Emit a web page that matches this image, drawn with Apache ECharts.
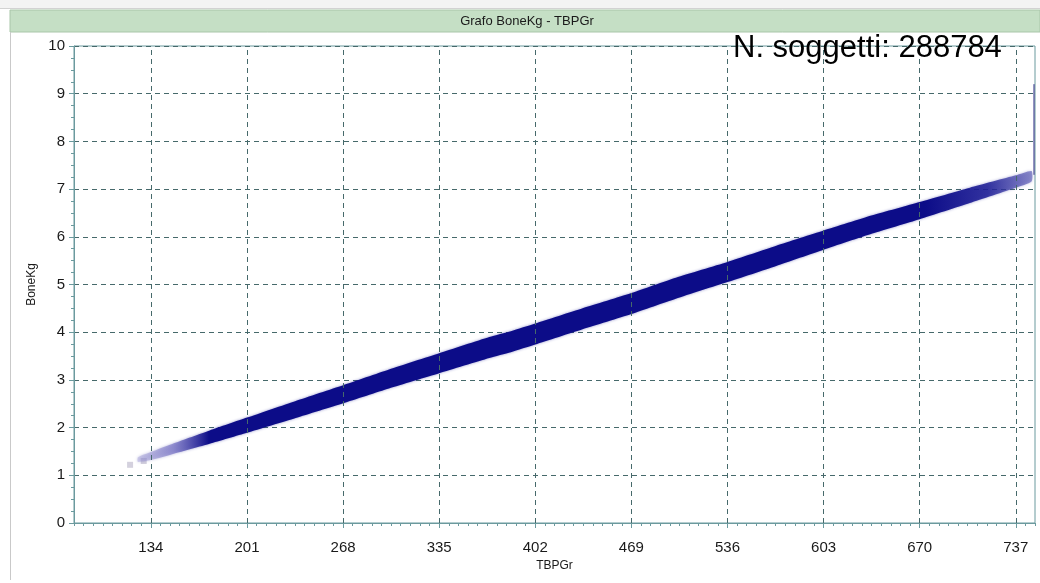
<!DOCTYPE html>
<html>
<head>
<meta charset="utf-8">
<title>Grafo BoneKg - TBPGr</title>
<script src="https://cdn.jsdelivr.net/npm/echarts@6/dist/echarts.min.js"></script>
<style>
  html, body { margin: 0; padding: 0; background: #ffffff; }
  #chart { width: 1040px; height: 583px; }
</style>
</head>
<body>
<div id="chart"></div>
<script>
// TBPGr sample positions along the point cloud and its lower / upper BoneKg edges
const tbpGr    = [125, 137, 150, 175, 201, 235, 268, 300, 335, 370, 385, 402, 435, 469, 500, 536, 570, 603, 637, 670, 705, 737, 748];
const boneLow  = [1.28, 1.34, 1.45, 1.66, 1.89, 2.20, 2.51, 2.82, 3.14, 3.46, 3.58, 3.74, 4.06, 4.38, 4.70, 5.05, 5.39, 5.73, 6.07, 6.37, 6.71, 7.03, 7.16];
const boneHigh = [1.38, 1.52, 1.67, 1.94, 2.21, 2.56, 2.89, 3.22, 3.56, 3.90, 4.02, 4.18, 4.50, 4.82, 5.14, 5.47, 5.81, 6.13, 6.45, 6.73, 7.03, 7.29, 7.38];

// isolated subjects at the low end
const strayTbp  = [119.5, 129.0];
const strayBone = [1.22, 1.30];

// subjects piled on the right edge of the axis
const edgeTbp  = 749.7;
const edgeBone = [7.30, 9.20];

// axis labels
const xTickLabels = [134, 201, 268, 335, 402, 469, 536, 603, 670, 737];
const xMin = 80.4, xMax = 750.4;
const subjectsCount = 288784;

const chart = echarts.init(document.getElementById('chart'));

const axisColor = '#6b9a9e';
const gridColor = '#46696b';
const fontFamily = '"Liberation Sans", Arial, sans-serif';
const labelFont = { color: '#1a1a1a', fontSize: 15, fontFamily: fontFamily };

const bandData = tbpGr.map((x, i) => [x, boneLow[i], boneHigh[i]]);

// the whole cloud is drawn as one polygon: upper edge left to right, lower edge back
function renderBand(params, api) {
  if (params.dataIndex !== 0) return null;
  const upper = bandData.map(d => api.coord([d[0], d[2]]));
  const lower = bandData.map(d => api.coord([d[0], d[1]])).reverse();
  return {
    type: 'polygon',
    shape: { points: upper.concat(lower), smooth: 0.2 },
    style: {
      fill: new echarts.graphic.LinearGradient(0, 0, 1, 0, [
        { offset: 0.00, color: 'rgba(175,170,220,0.45)' },
        { offset: 0.04, color: 'rgba(115,110,195,0.65)' },
        { offset: 0.08, color: '#0c0c88' },
        { offset: 0.88, color: '#0c0c88' },
        { offset: 0.95, color: 'rgba(30,30,150,0.85)' },
        { offset: 1.00, color: 'rgba(80,80,175,0.55)' }
      ]),
      shadowBlur: 3,
      shadowColor: 'rgba(11,11,140,0.45)'
    }
  };
}

const option = {
  animation: false,
  backgroundColor: '#ffffff',
  graphic: [
    { type: 'rect', z: 0, shape: { x: 0, y: 0, width: 1040, height: 9 }, style: { fill: '#f3f3f3' } },
    { type: 'line', z: 1, shape: { x1: 0, y1: 8.5, x2: 1040, y2: 8.5 }, style: { stroke: '#d2d2d2', lineWidth: 1 } },
    { type: 'rect', z: 1, shape: { x: 10, y: 10, width: 1030, height: 22 }, style: { fill: '#c5dfc5', stroke: '#a9c6a9', lineWidth: 1 } },
    { type: 'text', z: 2, x: 527, y: 21, style: { text: 'Grafo BoneKg - TBPGr', fill: '#1a1a1a', font: '13px ' + fontFamily, align: 'center', verticalAlign: 'middle' } },
    { type: 'line', z: 1, shape: { x1: 10.5, y1: 32, x2: 10.5, y2: 580 }, style: { stroke: '#c9c9c9', lineWidth: 1 } },
    { type: 'text', z: 20, x: 733, y: 48, style: { text: 'N. soggetti: ' + subjectsCount, fill: '#000000', font: '31px ' + fontFamily, align: 'left', verticalAlign: 'middle' } }
  ],
  grid: {
    left: 74, right: 5, top: 46, bottom: 60,
    show: true, backgroundColor: '#ffffff', borderColor: axisColor, borderWidth: 1
  },
  xAxis: [
    {
      type: 'value', min: xMin, max: xMax,
      name: 'TBPGr', nameLocation: 'middle', nameGap: 37,
      nameTextStyle: { color: '#1a1a1a', fontSize: 12, fontFamily: fontFamily },
      axisLine: { show: true, lineStyle: { color: axisColor, width: 1 } },
      axisTick: { show: true, length: 5, customValues: xTickLabels, lineStyle: { color: axisColor } },
      axisLabel: Object.assign({ margin: 17, customValues: xTickLabels }, labelFont),
      splitLine: { show: false }
    },
    {
      // minor ticks along the bottom axis
      type: 'value', min: xMin, max: xMax, interval: 6.7, position: 'bottom',
      axisLine: { show: false },
      axisTick: { show: true, length: 3, lineStyle: { color: axisColor } },
      axisLabel: { show: false },
      splitLine: { show: false }
    }
  ],
  yAxis: {
    type: 'value', min: 0, max: 10, interval: 1,
    name: 'BoneKg', nameLocation: 'middle', nameGap: 33,
    nameTextStyle: { color: '#1a1a1a', fontSize: 12, fontFamily: fontFamily },
    axisLine: { show: true, lineStyle: { color: axisColor, width: 1 } },
    axisTick: { show: true, length: 5, lineStyle: { color: axisColor } },
    minorTick: { show: true, splitNumber: 4, length: 3, lineStyle: { color: axisColor } },
    axisLabel: Object.assign({ margin: 9 }, labelFont),
    splitLine: { show: true, lineStyle: { color: gridColor, type: [5, 4], width: 1 } }
  },
  series: [
    {
      name: 'stray',
      type: 'scatter', z: 2,
      symbol: 'rect', symbolSize: 6,
      data: strayTbp.map((x, i) => [x, strayBone[i]]),
      itemStyle: { color: '#c9c6d6' },
      markLine: {
        silent: true, symbol: 'none', label: { show: false },
        lineStyle: { color: gridColor, type: [5, 4], width: 1 },
        data: xTickLabels.map(v => ({ xAxis: v }))
      }
    },
    {
      name: 'BoneKg',
      type: 'custom', z: 3, silent: true, clip: true,
      renderItem: renderBand,
      encode: { x: 0, y: [1, 2] },
      data: bandData
    },
    {
      name: 'edge',
      type: 'line', z: 4,
      symbol: 'none', silent: true,
      lineStyle: { color: 'rgba(40,40,130,0.5)', width: 2 },
      data: edgeBone.map(v => [edgeTbp, v])
    }
  ]
};

chart.setOption(option);
</script>
</body>
</html>
